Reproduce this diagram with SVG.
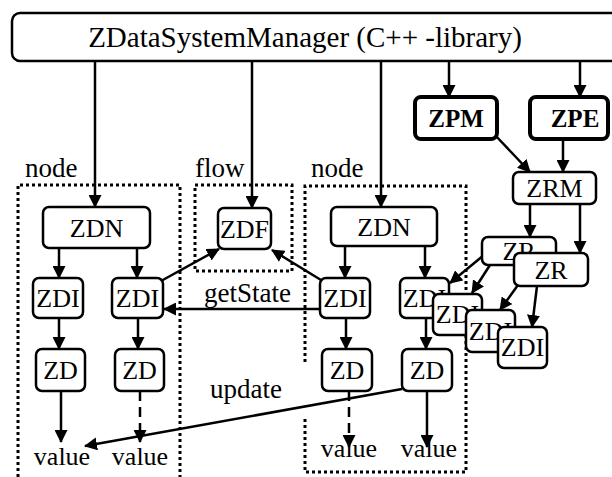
<svg xmlns="http://www.w3.org/2000/svg" width="612" height="477" viewBox="0 0 612 477">
<style>
.box{fill:#fff;stroke:#000;stroke-width:2.5}
.bold{fill:#fff;stroke:#000;stroke-width:4}
.t{font-family:"Liberation Serif","Times New Roman",serif;font-size:26px;text-anchor:middle;fill:#000}
.tb{font-family:"Liberation Serif","Times New Roman",serif;font-size:25px;font-weight:bold;text-anchor:middle;fill:#000}
.lbl{font-family:"Liberation Serif","Times New Roman",serif;font-size:27px;fill:#000}
.c{fill:none;stroke:#000;stroke-width:2.5;marker-end:url(#ah)}
.d{stroke-dasharray:10 6}
.dot{fill:none;stroke:#000;stroke-width:3;stroke-dasharray:3 3}
</style>
<defs>
<marker id="ah" markerUnits="userSpaceOnUse" markerWidth="13" markerHeight="13" refX="12" refY="6.5" orient="auto">
<path d="M0,0 L13,6.5 L0,13 z" fill="#000"/>
</marker>
</defs>
<rect width="612" height="477" fill="#fff"/>
<g id="groups">
<path class="dot" d="M18,477 V185 H180 V477"/>
<rect class="dot" x="195" y="185" width="97" height="86"/>
<path class="dot" d="M305,362 V186 H466 V472 H305 V417"/>
<text class="lbl" x="25" y="177">node</text>
<text class="lbl" x="195" y="177">flow</text>
<text class="lbl" x="311" y="177">node</text>
</g>
<g id="connectors">
<line class="c" x1="95" y1="61" x2="95" y2="207"/>
<line class="c" x1="252" y1="61" x2="252" y2="208"/>
<line class="c" x1="381" y1="61" x2="381" y2="207"/>
<line class="c" x1="449" y1="61" x2="449" y2="97"/>
<line class="c" x1="580" y1="61" x2="580" y2="97"/>
<line class="c" x1="495" y1="135" x2="530" y2="172"/>
<line class="c" x1="563" y1="139" x2="563" y2="172"/>
<line class="c" x1="530" y1="204" x2="530" y2="237"/>
<line class="c" x1="580" y1="204" x2="580" y2="253"/>
<line class="c" x1="484" y1="255" x2="450" y2="283"/>
<line class="c" x1="490" y1="265" x2="472" y2="293"/>
<line class="c" x1="518" y1="285" x2="500" y2="310"/>
<line class="c" x1="537" y1="286" x2="532" y2="327"/>
<line class="c" x1="59" y1="248" x2="59" y2="278"/>
<line class="c" x1="137" y1="248" x2="137" y2="278"/>
<line class="c" x1="59" y1="318" x2="59" y2="349"/>
<line class="c" x1="138" y1="318" x2="138" y2="349"/>
<line class="c" x1="61" y1="391" x2="61" y2="442"/>
<line class="c d" x1="140" y1="391" x2="140" y2="442"/>
<line class="c" x1="161" y1="281" x2="219" y2="249"/>
<line class="c" x1="321" y1="280" x2="272" y2="250"/>
<line class="c" x1="320" y1="309" x2="164" y2="309"/>
<line class="c" x1="345" y1="246" x2="345" y2="278"/>
<line class="c" x1="425" y1="246" x2="425" y2="278"/>
<line class="c" x1="346" y1="318" x2="346" y2="349"/>
<line class="c" x1="426" y1="318" x2="426" y2="349"/>
<line class="c d" x1="349" y1="391" x2="349" y2="447"/>
<line class="c" x1="427" y1="391" x2="427" y2="447"/>
<line class="c" x1="402" y1="389" x2="85" y2="446"/>
<text class="lbl" x="204" y="302">getState</text>
<text class="lbl" x="210" y="398">update</text>
</g>
<g id="manager"><rect class="box" x="12" y="13" width="620" height="48" rx="8"/><text class="t" style="font-size:29px" x="305" y="47">ZDataSystemManager (C++ -library)</text></g>
<g id="zpm"><rect class="bold" x="415" y="97" width="82" height="42" rx="6"/><text class="tb" x="456" y="127">ZPM</text></g>
<g id="zpe"><rect class="bold" x="530" y="97" width="78" height="42" rx="6"/><text class="tb" x="575" y="127">ZPE</text></g>
<g id="zrm"><rect class="box" x="513" y="172" width="83" height="32" rx="6"/><text class="t" x="554.5" y="197">ZRM</text></g>
<g id="zr1"><rect class="box" x="482" y="237" width="74" height="28" rx="6"/><text class="t" x="519" y="260">ZR</text></g>
<g id="zr2"><rect class="box" x="514" y="253" width="74" height="33" rx="6"/><text class="t" x="551" y="279">ZR</text></g>
<g id="zdn1"><rect class="box" x="43" y="207" width="107" height="41" rx="6"/><text class="t" x="96.5" y="237">ZDN</text></g>
<g id="zdf"><rect class="box" x="218" y="208" width="53" height="41" rx="6"/><text class="t" x="244.5" y="238">ZDF</text></g>
<g id="zdn2"><rect class="box" x="331" y="207" width="106" height="39" rx="6"/><text class="t" x="384" y="236">ZDN</text></g>
<g id="zdi1"><rect class="box" x="33" y="278" width="50" height="40" rx="6"/><text class="t" x="58" y="307">ZDI</text></g>
<g id="zdi2"><rect class="box" x="112" y="278" width="51" height="40" rx="6"/><text class="t" x="137.5" y="307">ZDI</text></g>
<g id="zd1"><rect class="box" x="36" y="349" width="49" height="42" rx="6"/><text class="t" x="60.5" y="379">ZD</text></g>
<g id="zd2"><rect class="box" x="115" y="349" width="49" height="42" rx="6"/><text class="t" x="139.5" y="379">ZD</text></g>
<g id="value1"><text class="t" x="62" y="465">value</text></g>
<g id="value2"><text class="t" x="140" y="465">value</text></g>
<g id="zdi3"><rect class="box" x="320" y="278" width="50" height="40" rx="6"/><text class="t" x="345" y="307">ZDI</text></g>
<g id="zdi4"><rect class="box" x="400" y="278" width="49" height="40" rx="6"/><text class="t" x="424.5" y="307">ZDI</text></g>
<g id="zdi5"><rect class="box" x="433" y="294" width="49" height="41" rx="6"/><text class="t" x="457.5" y="323">ZDI</text></g>
<g id="zdi6"><rect class="box" x="466" y="310" width="49" height="42" rx="6"/><text class="t" x="490.5" y="340">ZDI</text></g>
<g id="zdi7"><rect class="box" x="498" y="327" width="49" height="41" rx="6"/><text class="t" x="522.5" y="356">ZDI</text></g>
<g id="zd3"><rect class="box" x="322" y="349" width="50" height="42" rx="6"/><text class="t" x="347" y="379">ZD</text></g>
<g id="zd4"><rect class="box" x="402" y="349" width="50" height="42" rx="6"/><text class="t" x="427" y="379">ZD</text></g>
<g id="value3"><text class="t" x="349" y="457">value</text></g>
<g id="value4"><text class="t" x="429" y="457">value</text></g>
</svg>
